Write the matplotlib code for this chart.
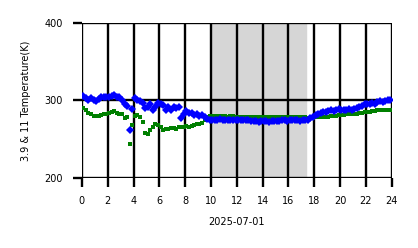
import matplotlib
matplotlib.use("Agg")
import matplotlib.pyplot as plt
import numpy as np

# hours since 00:00 on 2025-07-01
t_early = [0.1, 0.3, 0.5, 0.7, 0.9, 1.1, 1.3, 1.5, 1.7, 1.9,
           2.1, 2.3, 2.5, 2.7, 2.9, 3.1, 3.3, 3.5, 3.7, 3.9,
           4.1, 4.3, 4.5, 4.7, 4.9, 5.1, 5.3, 5.5, 5.7, 5.9,
           6.1, 6.3, 6.5, 6.7, 6.9, 7.1, 7.3, 7.5, 7.7, 7.9,
           8.1, 8.3, 8.5, 8.7, 8.9, 9.1, 9.3, 9.5, 9.7, 9.9]
t11_early = [306, 303, 301, 303, 300, 299, 302, 304, 305, 304,
             305, 306, 307, 305, 304, 300, 296, 293, 262, 289,
             303, 301, 299, 297, 290, 292, 295, 287, 292, 297,
             296, 294, 288, 291, 287, 292, 290, 291, 277, 282,
             286, 284, 284, 281, 282, 280, 281, 279, 276, 275]
t39_early = [290, 287, 284, 282, 280, 280, 280, 281, 282, 283,
             284, 285, 286, 284, 283, 282, 277, 278, 243, 268,
             280, 281, 279, 272, 258, 257, 262, 266, 270, 268,
             265, 262, 263, 263, 264, 264, 263, 265, 266, 266,
             267, 266, 267, 268, 269, 270, 271, 275, 278, 280]

t_late = [10.1, 10.3, 10.5, 10.7, 10.9, 11.1, 11.3, 11.5, 11.7, 11.9,
          12.1, 12.3, 12.5, 12.7, 12.9, 13.1, 13.3, 13.5, 13.7, 13.9,
          14.1, 14.3, 14.5, 14.7, 14.9, 15.1, 15.3, 15.5, 15.7, 15.9,
          16.1, 16.3, 16.5, 16.7, 16.9, 17.1, 17.3, 17.5, 17.7, 17.9,
          18.1, 18.3, 18.5, 18.7, 18.9, 19.1, 19.3, 19.5, 19.7, 19.9,
          20.1, 20.3, 20.5, 20.7, 20.9, 21.1, 21.3, 21.5, 21.7, 21.9,
          22.1, 22.3, 22.5, 22.7, 22.9, 23.1, 23.3, 23.5, 23.7, 23.9]
t11_late = [275, 275, 275, 276, 275, 275, 275, 274, 275, 275,
            275, 275, 274, 274, 274, 273, 273, 273, 272, 273,
            273, 273, 272, 273, 273, 273, 273, 274, 274, 273,
            274, 274, 274, 274, 273, 274, 274, 275, 277, 279,
            281, 283, 284, 285, 285, 286, 287, 286, 288, 289,
            288, 287, 288, 289, 288, 289, 290, 291, 293, 296,
            296, 295, 297, 296, 298, 299, 298, 299, 300, 301]
t39_late = [280, 280, 280, 280, 280, 280, 279, 280, 280, 279,
            279, 279, 279, 279, 279, 278, 278, 278, 278, 278,
            278, 278, 278, 278, 278, 278, 278, 278, 278, 278,
            278, 278, 278, 278, 278, 278, 278, 277, 277, 277,
            278, 278, 278, 279, 279, 279, 280, 280, 280, 281,
            281, 281, 282, 282, 283, 283, 283, 284, 284, 285,
            285, 285, 286, 286, 287, 287, 287, 287, 288, 288]

night = (10.0, 17.4)
hours = np.arange(0, 25, 2)
temps = [200, 300, 400]

plt.rcParams["font.family"] = "DejaVu Sans"
plt.rcParams["font.size"] = 7

fig = plt.figure(figsize=(4.18, 2.48), dpi=100)
ax = fig.add_axes([0.196, 0.284, 0.741, 0.622])

ax.axvspan(night[0], night[1], color="#d6d6d6", zorder=0)

ax.plot(t_early + t_late, t39_early + t39_late, "s", color="green",
        ms=3.0, mew=0, zorder=3)
ax.plot(t_early + t_late, t11_early + t11_late, "D", color="blue",
        ms=3.6, mew=0, zorder=4)

ax.set_xlim(0, 24)
ax.set_ylim(200, 400)
ax.set_xticks(hours)
ax.set_yticks(temps)
ax.grid(True, color="black", lw=1.7, zorder=2)
ax.set_axisbelow(False)
for s in ax.spines.values():
    s.set_visible(False)
ax.tick_params(direction="out", length=6.5, width=1.7, labelsize=7)
ax.tick_params(axis="x", pad=7)
ax.tick_params(axis="y", pad=7.5)

ax.set_xlabel("2025-07-01", fontsize=7, labelpad=8)
ax.set_ylabel("3.9 & 11 Temperature(K)", fontsize=7, labelpad=9)

fig.savefig("out.png", dpi=100)
